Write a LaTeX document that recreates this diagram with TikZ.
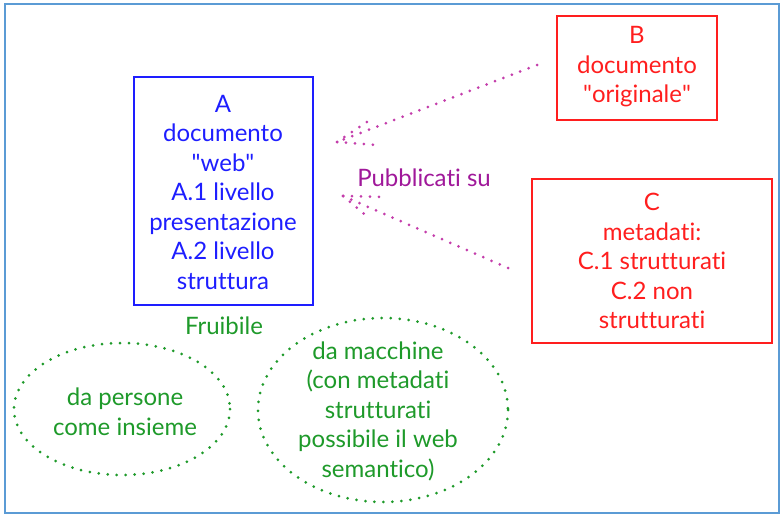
\documentclass[tikz,border=0pt]{standalone}
\usepackage{fontspec}
\setmainfont{Lato}[Ligatures=NoCommon]
\newfontfamily\plainq{Lato}
\newcommand{\sq}{{\plainq\symbol{34}}}
\begin{document}
\begin{tikzpicture}[x=1pt,y=-1pt,
  txt/.style={font=\fontsize{24}{29.5}\selectfont, align=center, inner sep=0pt},
  boxA/.style={draw=cblue, line width=1.8pt, text=cblue},
  boxR/.style={draw=cred, line width=1.8pt, text=cred},
  dotline/.style={line width=3pt, line cap=round, dash pattern=on 0pt off 9pt},
  pink/.style={dotline, draw=cpink},
  greendots/.style={dotline, draw=cgreen}
]
\definecolor{cblue}{HTML}{1E1EFF}
\definecolor{cred}{HTML}{FF1E1E}
\definecolor{cgreen}{HTML}{1E9A2A}
\definecolor{cpurple}{HTML}{A0189A}
\definecolor{cpink}{HTML}{C43DAB}
\definecolor{frame}{HTML}{5B9BD5}
\useasboundingbox (0,0) rectangle (780,514);
\fill[white] (0,0) rectangle (780,514);
\draw[frame, line width=2pt] (4.5,4) rectangle (779,512.5);

% boxes
\draw[boxA] (134,77) rectangle (313,305);
\node[txt, text=cblue] (A) at (223,192) {A\\documento\\\sq web\sq\\A.1 livello\\presentazione\\A.2 livello\\struttura};

\draw[boxR] (557,16) rectangle (717,120);
\node[txt, text=cred] (B) at (637,67) {B\\documento\\\sq originale\sq};

\draw[boxR] (532,179) rectangle (772,343);
\node[txt, text=cred] (C) at (652,261) {C\\metadati:\\C.1 strutturati\\C.2 non\\strutturati};

\node[txt, text=cpurple] (pub) at (424,178) {Pubblicati su};
\node[txt, text=cgreen] (fru) at (224,326) {Fruibile};

% ellipses
\draw[greendots] (122,409) ellipse [x radius=108, y radius=66];
\node[txt, text=cgreen] (pers) at (125,412) {da persone\\come insieme};
\draw[greendots] (383,410) ellipse [x radius=125, y radius=92];
\node[txt, text=cgreen] (macc) at (378,411) {da macchine\\(con metadati\\strutturati\\possibile il web\\semantico)};

% arrows
\coordinate (s1) at (537,65);
\coordinate (t1) at (337,142);
\coordinate (s2) at (508,268);
\coordinate (t2) at (343,196);
\draw[pink] (s1) -- (t1);
\draw[pink] (t1) -- ++(40,3);
\draw[pink] (t1) -- ++(30,-20);
\draw[pink] (s2) -- (t2);
\draw[pink] (t2) -- ++(38,1);
\draw[pink] (t2) -- ++(26,22);
\end{tikzpicture}
\end{document}
